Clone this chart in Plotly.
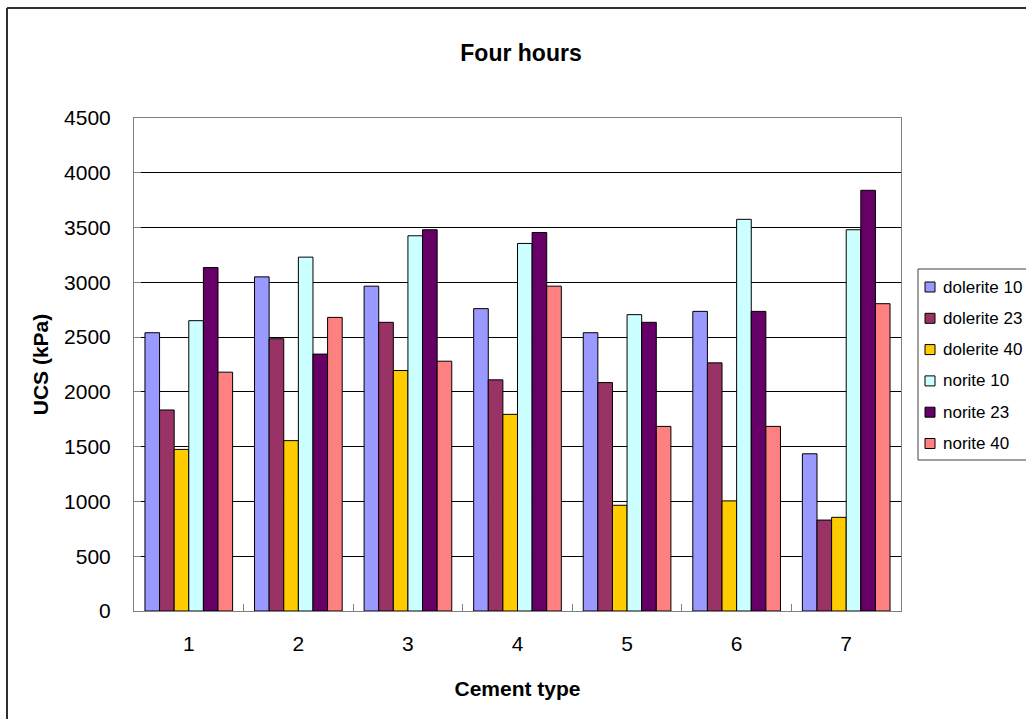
import plotly.graph_objects as go

categories = ["1", "2", "3", "4", "5", "6", "7"]
series_names = ["dolerite 10", "dolerite 23", "dolerite 40", "norite 10", "norite 23", "norite 40"]
dolerite_10 = [2540, 3050, 2965, 2760, 2540, 2735, 1435]
dolerite_23 = [1835, 2485, 2635, 2110, 2085, 2265, 830]
dolerite_40 = [1475, 1555, 2195, 1795, 965, 1005, 855]
norite_10 = [2650, 3230, 3425, 3355, 2705, 3575, 3480]
norite_23 = [3135, 2345, 3480, 3455, 2635, 2735, 3840]
norite_40 = [2180, 2680, 2280, 2965, 1685, 1685, 2805]
colors = ["#9999FF", "#993366", "#FFCC00", "#CCFFFF", "#660066", "#FF8080"]
y_ticks = [0, 500, 1000, 1500, 2000, 2500, 3000, 3500, 4000, 4500]

series_values = [dolerite_10, dolerite_23, dolerite_40, norite_10, norite_23, norite_40]

FONT = "Liberation Sans, Arial, sans-serif"

fig = go.Figure()
for name, vals, col in zip(series_names, series_values, colors):
    fig.add_trace(go.Bar(
        x=categories, y=vals, name=name, showlegend=False,
        marker=dict(color=col, line=dict(color="#000000", width=1)),
    ))

# plot area in pixels
L, R, T, B = 134, 901, 118, 611
W, H = 1026, 719
pw, ph = R - L, B - T

def px_x(p):
    return (p - L) / pw

def px_y(p):
    return (B - p) / ph

fig.update_layout(
    width=W, height=H,
    margin=dict(l=L, r=W - R, t=T, b=H - B, pad=0),
    paper_bgcolor="white", plot_bgcolor="white",
    barmode="group", bargap=0.2, bargroupgap=0,
    font=dict(family=FONT, color="#000000", size=21),
    title=dict(text="<b>Four hours</b>", x=px_x(521), xref="paper", xanchor="center",
               y=1 - 53 / H, yanchor="middle", yref="container",
               font=dict(size=23, family=FONT, color="#000000")),
    showlegend=False,
    xaxis=dict(
        title=dict(text="<b>Cement type</b>", font=dict(size=21, family=FONT), standoff=27),
        showline=True, linecolor="#808080", linewidth=1, mirror=True,
        ticks="inside", ticklen=7, tickcolor="#808080", tickson="boundaries",
        tickfont=dict(size=21, family=FONT),
        ticklabelstandoff=14,
        showgrid=False,
    ),
    yaxis=dict(
        title=dict(text="<b>UCS (kPa)</b>", font=dict(size=21, family=FONT), standoff=9),
        range=[0, 4500], tickvals=y_ticks,
        showline=True, linecolor="#808080", linewidth=1, mirror=True,
        ticks="inside", ticklen=7, tickcolor="#808080",
        tickfont=dict(size=21, family=FONT),
        ticklabelstandoff=18,
        showgrid=True, gridcolor="#000000", gridwidth=1,
        zeroline=False,
    ),
)

# outer chart border (top and left edges visible)
fig.add_shape(type="line", xref="paper", yref="paper",
              x0=px_x(7), x1=px_x(1030), y0=px_y(8), y1=px_y(8),
              line=dict(color="#303030", width=2))
fig.add_shape(type="line", xref="paper", yref="paper",
              x0=px_x(7), x1=px_x(7), y0=px_y(8), y1=px_y(725),
              line=dict(color="#303030", width=2))

# legend box (extends past the right edge, as in the reference)
fig.add_shape(type="rect", xref="paper", yref="paper",
              x0=px_x(918), x1=px_x(1040), y0=px_y(269), y1=px_y(460),
              line=dict(color="#404040", width=1), fillcolor="white", layer="above")
leg_top, leg_step = 287, 31.3
for i, (name, col) in enumerate(zip(series_names, colors)):
    yc = leg_top + i * leg_step
    fig.add_shape(type="rect", xref="paper", yref="paper",
                  x0=px_x(925), x1=px_x(935), y0=px_y(yc - 5), y1=px_y(yc + 5),
                  line=dict(color="#000000", width=1), fillcolor=col, layer="above")
    fig.add_annotation(text=name, xref="paper", yref="paper",
                       x=px_x(941), y=px_y(yc), xanchor="left", yanchor="middle",
                       showarrow=False, font=dict(size=17, family=FONT, color="#000000"))

fig.write_html("out.html", config={"displayModeBar": False},
               post_script="document.body.style.margin='0';")
